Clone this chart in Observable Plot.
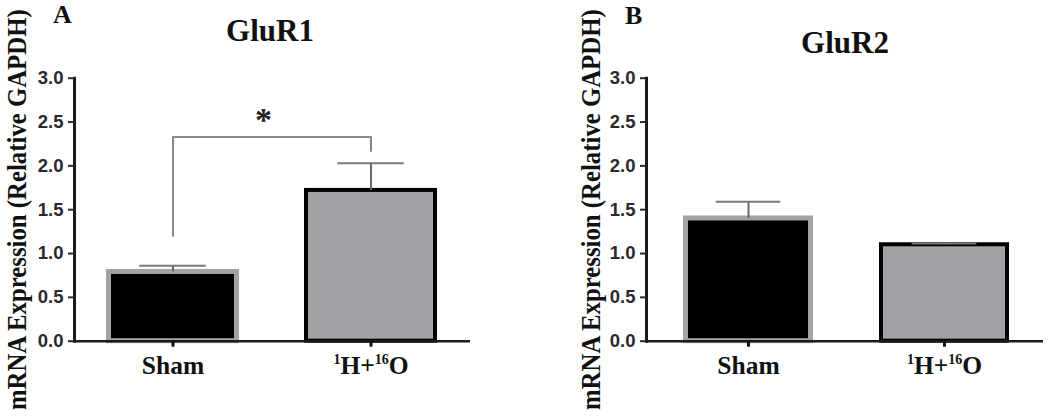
<!DOCTYPE html>
<html>
<head>
<meta charset="utf-8">
<script src="https://cdn.jsdelivr.net/npm/d3@7"></script>
<script src="https://cdn.jsdelivr.net/npm/@observablehq/plot@0.6"></script>
<style>
  html, body { margin: 0; padding: 0; background: #fff; }
  #wrap { position: relative; width: 1050px; height: 416px; overflow: hidden; background: #fff; }
  .panel { position: absolute; top: 0; }
  .lbl { position: absolute; font-family: "Liberation Serif", "Times New Roman", serif; font-weight: bold; line-height: 1; color: #111; white-space: nowrap; }
</style>
</head>
<body>
<div id="wrap"></div>
<script>
// ---- data ----
const groups = ["Sham", "1H+16O"];
const gluR1Mean = [0.79, 1.72];
const gluR1Upper = [0.86, 2.03];
const gluR2Mean = [1.40, 1.10];
const gluR2Upper = [1.59, 1.115];
const yTicks = [0, 0.5, 1.0, 1.5, 2.0, 2.5, 3.0];
const yLabel = "mRNA Expression (Relative GAPDH)";
const panelLetters = ["A", "B"];
const panelTitles = ["GluR1", "GluR2"];
// significance bracket (GluR1): path points in data space
const bracketGroups = ["Sham", "Sham", "1H+16O", "1H+16O"];
const bracketValues = [1.20, 2.33, 2.33, 2.17];
const sigLabel = "*";

const barFill = {"Sham": "#000000", "1H+16O": "#a2a2a6"};
const barStroke = {"Sham": "#a3a3a3", "1H+16O": "#000000"};

const LABEL_LEN = 401;

function makePanel(cfg) {
  const rows = groups.map((g, i) => ({group: g, mean: cfg.mean[i], upper: cfg.upper[i]}));
  const H = 416, mt = 77.7, mb = 75.3;
  const range = cfg.width - cfg.marginLeft - cfg.marginRight;
  const step = range / (groups.length - cfg.pi + 2 * cfg.po);
  const marks = [
    Plot.barY(rows.filter(d => d.group === "Sham"), {
      x: "group", y: "mean", fill: barFill["Sham"], stroke: barStroke["Sham"],
      strokeWidth: 5, insetLeft: 2.5, insetRight: 2.5
    }),
    Plot.barY(rows.filter(d => d.group !== "Sham"), {
      x: "group", y: "mean", fill: barFill["1H+16O"], stroke: barStroke["1H+16O"],
      strokeWidth: 4, insetLeft: 2, insetRight: 2
    }),
    Plot.ruleX(rows, {x: "group", y1: "mean", y2: "upper", stroke: "#6a6a6a", strokeWidth: 2}),
    Plot.tickY(rows, {x: "group", y: "upper", stroke: "#7a7a7a", strokeWidth: 2,
      insetLeft: step * (1 - cfg.pi) / 4, insetRight: step * (1 - cfg.pi) / 4}),
    Plot.ruleY([0], {stroke: "#1a1a1a", strokeWidth: 2.5}),
    Plot.frame({anchor: "left", stroke: "#1a1a1a", strokeWidth: 3}),
    Plot.axisY({
      ticks: yTicks, tickFormat: d => d.toFixed(1), tickSize: 6, tickPadding: 5,
      fontSize: 18.5, fontWeight: "bold", fontFamily: "Liberation Sans, Arial, sans-serif",
      color: "#2a2a2a", strokeWidth: 2, label: null
    }),
    Plot.axisX({
      tickSize: 6, tickPadding: 8.5, fontSize: 25.5, fontWeight: "bold",
      fontFamily: "Liberation Serif, Times New Roman, serif",
      color: "#111", strokeWidth: 3, label: null
    }),
    Plot.text([yLabel], {
      frameAnchor: "left", rotate: -90, dx: cfg.labelDx, text: d => d,
      textAnchor: "middle",
      fontSize: 26.5, fontWeight: "bold", fontFamily: "Liberation Serif, Times New Roman, serif",
      fill: "#111"
    })
  ];
  if (cfg.bracket) {
    const pts = bracketGroups.map((g, i) => ({group: g, v: bracketValues[i]}));
    marks.push(Plot.line(pts, {x: "group", y: "v", stroke: "#8a8a8a", strokeWidth: 2}));
    marks.push(Plot.text([sigLabel], {
      x: () => groups[0], y: () => bracketValues[1], text: d => d,
      dx: step / 2 - 9, dy: -17, fontSize: 34, fontWeight: "bold",
      fontFamily: "Liberation Serif, Times New Roman, serif", fill: "#222"
    }));
  }
  const svg = Plot.plot({
    width: cfg.width, height: H,
    marginLeft: cfg.marginLeft, marginRight: cfg.marginRight,
    marginTop: mt, marginBottom: mb,
    style: {background: "#fff", overflow: "visible"},
    x: {domain: groups, paddingInner: cfg.pi, paddingOuter: cfg.po, align: cfg.align, axis: null},
    y: {domain: [0, 3], axis: null},
    marks
  });
  // superscripts in the tick label
  svg.querySelectorAll("text").forEach(t => {
    if (t.textContent.trim() === "1H+16O") {
      while (t.firstChild) t.removeChild(t.firstChild);
      const parts = [["1", true], ["H+", false], ["16", true], ["O", false]];
      let raised = false;
      parts.forEach(([s, sup]) => {
        const ts = document.createElementNS("http://www.w3.org/2000/svg", "tspan");
        ts.textContent = s;
        if (sup) { ts.setAttribute("font-size", 14); if (!raised) { ts.setAttribute("dy", -10); raised = true; } }
        else if (raised) { ts.setAttribute("dy", 10); raised = false; }
        t.appendChild(ts);
      });
    }
  });
  return svg;
}

const wrap = document.getElementById("wrap");
const panelCfgs = [
  {left: 0, width: 540, marginLeft: 74, marginRight: 70, pi: 0.33, po: 0.16, align: 0.487,
   mean: gluR1Mean, upper: gluR1Upper, labelDx: -57.2, bracket: true},
  {left: 540, width: 510, marginLeft: 106, marginRight: 7, pi: 0.335, po: 0.177, align: 0.527,
   mean: gluR2Mean, upper: gluR2Upper, labelDx: -55.2, bracket: false}
];
panelCfgs.forEach(cfg => {
  const div = document.createElement("div");
  div.className = "panel";
  div.style.left = cfg.left + "px";
  const svg = makePanel(cfg);
  div.appendChild(svg);
  wrap.appendChild(div);
  // condense the rotated axis title to the reference length (now that it is measurable)
  svg.querySelectorAll("text").forEach(t => {
    if (t.textContent === yLabel) {
      const len = t.getComputedTextLength();
      if (len > 0) {
        const tr = t.getAttribute("transform") || "";
        t.setAttribute("transform", tr + ` scale(${LABEL_LEN / len},1)`);
      }
    }
  });
});

// panel letters and titles
function addLabel(text, left, top, size, center) {
  const d = document.createElement("div");
  d.className = "lbl";
  d.textContent = text;
  d.style.fontSize = size + "px";
  d.style.top = top + "px";
  d.style.left = left + "px";
  if (center) d.style.transform = "translateX(-50%)";
  wrap.appendChild(d);
}
addLabel(panelLetters[0], 53, 2.4, 26, false);
addLabel(panelLetters[1], 625, 3.4, 26, false);
addLabel(panelTitles[0], 270, 15, 31, true);
addLabel(panelTitles[1], 845, 27, 31, true);
</script>
</body>
</html>
